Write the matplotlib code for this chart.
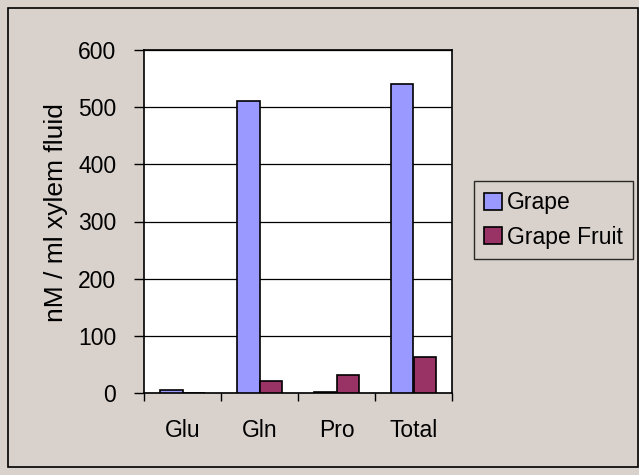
import numpy as np
import matplotlib.pyplot as plt
from matplotlib.patches import Rectangle

categories = ['Glu', 'Gln', 'Pro', 'Total']
grape = [6, 510, 2, 541]
grape_fruit = [0, 21, 31, 63]
series_names = ['Grape', 'Grape Fruit']

plt.rcParams['font.family'] = ['Liberation Sans', 'DejaVu Sans']

bg = '#d9d1cb'
fig = plt.figure(figsize=(6.39, 4.75), dpi=100, facecolor=bg)
fig.patches.append(Rectangle((8 / 639, 8 / 475), 630 / 639, 459 / 475, transform=fig.transFigure,
                             fill=False, edgecolor='black', linewidth=1.2))

ax = fig.add_axes([144 / 639, 1 - 393 / 475, 308 / 639, 343 / 475])
ax.set_facecolor('white')

x = np.arange(len(categories))
w = 0.29
ax.bar(x - w / 2, grape, w, color='#9999ff', edgecolor='black', linewidth=1.2, label=series_names[0], zorder=3)
ax.bar(x + w / 2, grape_fruit, w, color='#993366', edgecolor='black', linewidth=1.2, label=series_names[1], zorder=3)

ax.set_xlim(-0.5, len(categories) - 0.5)
ax.set_ylim(0, 600)
ax.set_yticks(range(0, 601, 100))
ax.yaxis.grid(True, color='black', linewidth=0.9, zorder=0)
ax.set_xticks(x)
ax.set_xticklabels(categories, fontsize=16.5)
ax.set_xticks(np.arange(-0.5, len(categories)), minor=True)
ax.tick_params(axis='x', which='major', length=0, pad=19)
ax.tick_params(axis='x', which='minor', length=6, direction='out', width=1)
ax.tick_params(axis='y', length=7, direction='out', width=1, labelsize=16.5, pad=13)
for s in ax.spines.values():
    s.set_linewidth(1.2)

# y label placed by hand, like the original
fig.text(56 / 639, 1 - 213 / 475, 'nM / ml xylem fluid', rotation=90, fontsize=19,
         ha='center', va='center')

leg = fig.legend(loc='upper left', bbox_to_anchor=(474 / 639, 1 - 181 / 475), fontsize=16.5,
                 frameon=True, fancybox=False, facecolor=bg, edgecolor='black',
                 handlelength=0.75, handleheight=0.75, handletextpad=0.25, borderpad=0.45,
                 labelspacing=0.5, borderaxespad=0)
leg.get_frame().set_linewidth(1)

fig.savefig('out.png', dpi=100, facecolor=bg)
